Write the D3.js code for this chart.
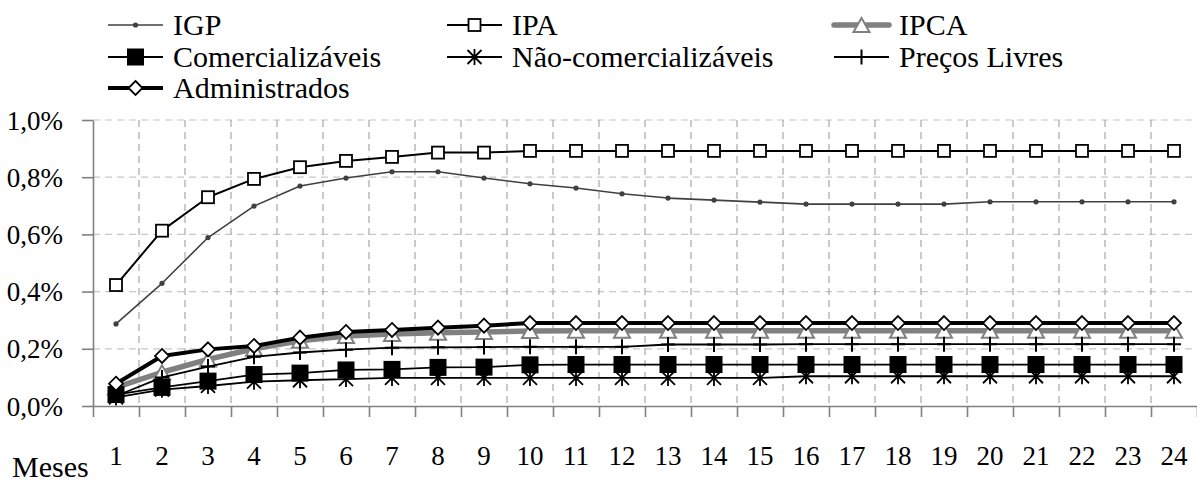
<!DOCTYPE html>
<html>
<head>
<meta charset="utf-8">
<script src="https://cdn.jsdelivr.net/npm/d3@7"></script>
<style>
  html, body { margin: 0; padding: 0; background: #fff; }
  svg { display: block; }
</style>
</head>
<body>
<svg id="chart" width="1197" height="483"></svg>
<script>
// Months after the shock (1..24)
const months = d3.range(1, 25);

// Accumulated response (% points)
const igp = [0.287, 0.429, 0.589, 0.699, 0.769, 0.797, 0.819, 0.819, 0.797, 0.777, 0.762, 0.742,
             0.727, 0.720, 0.713, 0.706, 0.706, 0.706, 0.706, 0.714, 0.714, 0.714, 0.714, 0.714];
const ipa = [0.423, 0.613, 0.730, 0.794, 0.835, 0.857, 0.871, 0.886, 0.886, 0.892, 0.892, 0.892,
             0.892, 0.892, 0.892, 0.892, 0.892, 0.892, 0.892, 0.892, 0.892, 0.892, 0.892, 0.892];
const ipca = [0.065, 0.118, 0.163, 0.200, 0.228, 0.245, 0.252, 0.256, 0.259, 0.262, 0.263, 0.263,
              0.263, 0.263, 0.263, 0.263, 0.263, 0.263, 0.263, 0.263, 0.263, 0.263, 0.263, 0.263];
const comercializaveis = [0.040, 0.065, 0.087, 0.110, 0.115, 0.126, 0.128, 0.135, 0.136, 0.144, 0.145, 0.145,
                          0.145, 0.145, 0.145, 0.145, 0.145, 0.145, 0.145, 0.145, 0.145, 0.145, 0.145, 0.145];
const naoComercializaveis = [0.030, 0.057, 0.070, 0.085, 0.090, 0.094, 0.098, 0.098, 0.098, 0.098, 0.098, 0.098,
                             0.098, 0.098, 0.098, 0.104, 0.104, 0.104, 0.104, 0.104, 0.104, 0.104, 0.104, 0.104];
const precosLivres = [0.035, 0.100, 0.138, 0.172, 0.187, 0.197, 0.204, 0.205, 0.206, 0.207, 0.207, 0.207,
                      0.215, 0.215, 0.215, 0.216, 0.216, 0.216, 0.216, 0.216, 0.216, 0.216, 0.216, 0.216];
const administrados = [0.078, 0.175, 0.198, 0.210, 0.239, 0.259, 0.266, 0.274, 0.281, 0.290, 0.290, 0.290,
                       0.290, 0.290, 0.290, 0.290, 0.290, 0.290, 0.290, 0.290, 0.290, 0.290, 0.290, 0.290];

const yTicks = [0, 0.2, 0.4, 0.6, 0.8, 1.0];
const xTitle = "Meses";

// Series in drawing order, with their look
const series = [
  { name: "IGP", values: igp, color: "#404040", width: 1.6, marker: "dot" },
  { name: "IPA", values: ipa, color: "#000", width: 2, marker: "square" },
  { name: "IPCA", values: ipca, color: "#808080", width: 5.5, marker: "triangle" },
  { name: "Comercializáveis", values: comercializaveis, color: "#000", width: 1.8, marker: "bsquare" },
  { name: "Não-comercializáveis", values: naoComercializaveis, color: "#000", width: 1.8, marker: "asterisk" },
  { name: "Preços Livres", values: precosLivres, color: "#000", width: 1.8, marker: "plus" },
  { name: "Administrados", values: administrados, color: "#000", width: 4, marker: "diamond" }
];

const FONT = "'Liberation Serif', 'Times New Roman', serif";
const svg = d3.select("#chart");
const plot = { left: 93, right: 1197, top: 120, bottom: 406 };

const x = d3.scaleBand().domain(months).range([plot.left, plot.right]).padding(0);
const xEdge = d3.scaleLinear().domain([0, months.length]).range([plot.left, plot.right]);
const y = d3.scaleLinear().domain([0, 1.0]).range([plot.bottom, plot.top]);
const fmt = v => v.toFixed(1).replace(".", ",") + "%";

// Grid
const grid = svg.append("g");
grid.selectAll("line.h").data(yTicks.slice(1)).join("line")
  .attr("x1", plot.left).attr("x2", plot.right)
  .attr("y1", d => y(d)).attr("y2", d => y(d))
  .attr("stroke", "#c8c8c8").attr("stroke-width", 1.2).attr("stroke-dasharray", "7,5");
grid.selectAll("line.v").data(d3.range(1, months.length)).join("line")
  .attr("x1", d => xEdge(d)).attr("x2", d => xEdge(d))
  .attr("y1", plot.top).attr("y2", plot.bottom)
  .attr("stroke", "#a8a8a8").attr("stroke-width", 1.2).attr("stroke-dasharray", "7,5");

// Y axis
const yAxis = svg.append("g").attr("transform", `translate(${plot.left},0)`)
  .call(d3.axisLeft(y).tickValues(yTicks).tickFormat(fmt).tickSize(11).tickSizeOuter(0).tickPadding(19));
yAxis.select(".domain").attr("stroke", "#808080").attr("stroke-width", 1.6);
yAxis.selectAll(".tick line").attr("stroke", "#808080").attr("stroke-width", 1.6);
yAxis.selectAll(".tick text").attr("font-size", 27).style("font-family", FONT)
  .attr("fill", "#000").attr("dy", "0.34em");

// X axis: ticks on category boundaries, labels at category centres
const xAxis = svg.append("g").attr("transform", `translate(0,${plot.bottom})`)
  .call(d3.axisBottom(xEdge).tickValues(d3.range(0, months.length + 1)).tickFormat("").tickSize(11).tickSizeOuter(0));
xAxis.select(".domain").attr("stroke", "#808080").attr("stroke-width", 1.6);
xAxis.selectAll(".tick line").attr("stroke", "#808080").attr("stroke-width", 1.6);

svg.append("g").selectAll("text").data(months).join("text")
  .attr("x", d => x(d) + x.bandwidth() / 2).attr("y", 465)
  .attr("text-anchor", "middle").attr("font-size", 27).style("font-family", FONT).text(d => d);

svg.append("text").attr("x", 12).attr("y", 477).attr("font-size", 30).style("font-family", FONT).text(xTitle);

// Markers
function drawMarker(g, type, cx, cy) {
  const m = g.append("g").attr("transform", `translate(${cx},${cy})`);
  switch (type) {
    case "dot":
      m.append("circle").attr("r", 2.6).attr("fill", "#404040");
      break;
    case "square":
      m.append("rect").attr("x", -6).attr("y", -6).attr("width", 12).attr("height", 12)
        .attr("fill", "#fff").attr("stroke", "#000").attr("stroke-width", 1.8);
      break;
    case "triangle":
      m.append("path").attr("d", "M0,-7L8,7L-8,7Z")
        .attr("fill", "#fff").attr("stroke", "#808080").attr("stroke-width", 2);
      break;
    case "bsquare":
      m.append("rect").attr("x", -8.5).attr("y", -8.5).attr("width", 17).attr("height", 17).attr("fill", "#000");
      break;
    case "asterisk":
      m.append("path").attr("d", "M-7,-7L7,7M-7,7L7,-7M0,-8V8")
        .attr("stroke", "#000").attr("stroke-width", 1.8).attr("fill", "none");
      break;
    case "plus":
      m.append("path").attr("d", "M0,-7.5V7.5M-7,0H7")
        .attr("stroke", "#000").attr("stroke-width", 2).attr("fill", "none");
      break;
    case "diamond":
      m.append("path").attr("d", "M0,-7L7,0L0,7L-7,0Z")
        .attr("fill", "#fff").attr("stroke", "#000").attr("stroke-width", 1.8);
      break;
  }
}

// Series
const line = d3.line().x((d, i) => x(months[i]) + x.bandwidth() / 2).y(d => y(d));
series.forEach(s => {
  const g = svg.append("g");
  g.append("path").attr("d", line(s.values)).attr("fill", "none")
    .attr("stroke", s.color).attr("stroke-width", s.width).attr("stroke-linejoin", "round");
  s.values.forEach((v, i) => drawMarker(g, s.marker, x(months[i]) + x.bandwidth() / 2, y(v)));
});

// Legend: three columns, entries filled row by row
const legendCols = [108, 447, 834];
const legendRows = [35, 67, 98];
const legend = svg.append("g");
series.forEach((s, i) => {
  const cx = legendCols[i % 3], by = legendRows[Math.floor(i / 3)];
  const ly = by - 10;
  const g = legend.append("g");
  g.append("line").attr("x1", cx).attr("x2", cx + 55).attr("y1", ly).attr("y2", ly)
    .attr("stroke", s.color).attr("stroke-width", s.width)
    .attr("stroke-linecap", s.marker === "triangle" ? "round" : "butt");
  drawMarker(g, s.marker, cx + 27.5, ly);
  g.append("text").attr("x", cx + 65).attr("y", by).attr("font-size", 30).style("font-family", FONT).text(s.name);
});
</script>
</body>
</html>
